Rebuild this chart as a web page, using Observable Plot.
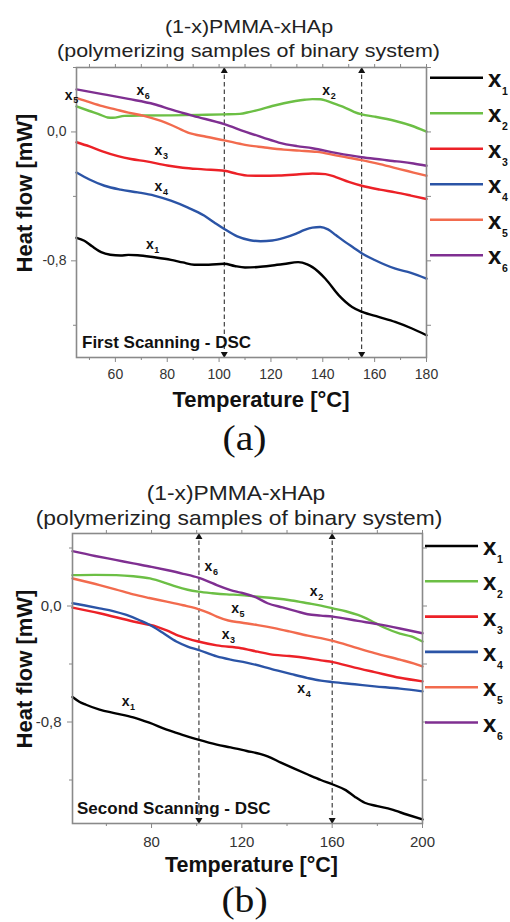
<!DOCTYPE html>
<html><head><meta charset="utf-8">
<script src="https://cdn.jsdelivr.net/npm/d3@7"></script>
<script src="https://cdn.jsdelivr.net/npm/@observablehq/plot@0.6"></script>
<style>
body{margin:0;background:#fff;}
#page{position:relative;width:510px;height:922px;overflow:hidden;background:#fff;font-family:"Liberation Sans",Arial,sans-serif;}
#pa,#pb,#ov{position:absolute;left:0;}
#pa{top:0}#pb{top:460px}#ov{top:0}
</style></head><body><div id="page"><div id="pa"></div><div id="pb"></div><svg id="ov" width="510" height="922"></svg></div>
<script>
// ---------- data ----------
const SERIES = ["1","2","3","4","5","6"];
const COLORS = ["#000000","#6cbf45","#ec2127","#2b54a6","#f26b4e","#7f2f91"];

// Panel (a) First scanning: [temperature °C, heat flow mW]
const A_X1 = [[45,-0.657],[48,-0.675],[51,-0.71],[54.5,-0.746],[58,-0.762],[62,-0.767],[65,-0.763],[68.6,-0.765],[75,-0.778],[81.4,-0.794],[86,-0.81],[90.4,-0.824],[96,-0.824],[102,-0.818],[106,-0.832],[110,-0.841],[115,-0.838],[120.5,-0.829],[125,-0.82],[130.5,-0.808],[134,-0.822],[136,-0.839],[141,-0.911],[146.2,-1.014],[151.3,-1.086],[155.2,-1.117],[161.5,-1.148],[167.9,-1.179],[174.4,-1.22],[180,-1.262]];
const A_X2 = [[45,0.158],[50,0.13],[54.5,0.105],[57,0.09],[59,0.088],[63.5,0.1],[70,0.102],[81.4,0.103],[92,0.106],[102,0.109],[108,0.112],[112,0.125],[116,0.14],[120.5,0.161],[125,0.178],[129.5,0.192],[133,0.2],[136,0.204],[139,0.203],[141,0.196],[145,0.172],[148.7,0.15],[152,0.125],[155,0.109],[160,0.095],[168,0.068],[174,0.04],[180,0.002]];
const A_X3 = [[45,-0.064],[50,-0.09],[55,-0.12],[61,-0.15],[66,-0.168],[72,-0.183],[80,-0.208],[86,-0.222],[94,-0.232],[102,-0.241],[107,-0.26],[111,-0.271],[116,-0.272],[123,-0.27],[130,-0.264],[136,-0.258],[141,-0.262],[145,-0.28],[150,-0.31],[155,-0.334],[162,-0.358],[168,-0.375],[174,-0.395],[180,-0.416]];
const A_X4 = [[45,-0.252],[50,-0.295],[55.8,-0.334],[62,-0.358],[68.6,-0.375],[75,-0.395],[81.4,-0.427],[88,-0.47],[94.2,-0.519],[98,-0.56],[102,-0.602],[107,-0.648],[112,-0.672],[116,-0.678],[120.5,-0.674],[125,-0.658],[129.5,-0.633],[133,-0.608],[136,-0.594],[139,-0.59],[142,-0.605],[145,-0.64],[148.7,-0.684],[152,-0.72],[155,-0.753],[160,-0.795],[168,-0.849],[174,-0.875],[180,-0.911]];
const A_X5 = [[45,0.212],[50,0.185],[55,0.16],[60,0.14],[65,0.12],[71,0.1],[77.6,0.068],[82,0.04],[88,-0.004],[95,-0.03],[102,-0.052],[110,-0.08],[117,-0.095],[125,-0.11],[131,-0.116],[137.8,-0.124],[145,-0.145],[150,-0.16],[155,-0.175],[162,-0.2],[170,-0.232],[175,-0.252],[180,-0.272]];
const A_X6 = [[45,0.264],[55,0.235],[65,0.205],[75,0.172],[81.4,0.14],[90,0.1],[102,0.048],[110,0.002],[117,-0.035],[123,-0.066],[130,-0.088],[136,-0.101],[145,-0.13],[155,-0.157],[163,-0.172],[167,-0.18],[170.5,-0.186],[175,-0.196],[180,-0.21]];

// Panel (b) Second scanning
const B_X1 = [[45,-0.628],[48,-0.66],[51,-0.681],[57,-0.715],[64,-0.74],[71.9,-0.768],[79,-0.805],[86.7,-0.853],[94,-0.89],[100.7,-0.922],[108.9,-0.956],[115,-0.975],[122.2,-1.0],[128,-1.02],[131.4,-1.037],[137.3,-1.08],[143,-1.12],[149.2,-1.162],[155,-1.2],[160.3,-1.231],[166,-1.27],[170,-1.315],[174.4,-1.357],[180,-1.38],[186.2,-1.403],[193,-1.438],[200,-1.472]];
const B_X2 = [[45,0.213],[55,0.215],[64.4,0.213],[72,0.205],[79.3,0.19],[86,0.16],[91,0.133],[96,0.112],[100.7,0.099],[107,0.088],[113.3,0.08],[119.6,0.076],[125.5,0.066],[134.4,0.053],[142,0.038],[149.2,0.019],[155,0.003],[160.3,-0.016],[166,-0.036],[171.4,-0.062],[177,-0.1],[183.2,-0.15],[190,-0.19],[195,-0.21],[200,-0.245]];
const B_X3 = [[45,-0.011],[57,-0.05],[71.9,-0.107],[82.2,-0.142],[87,-0.17],[91,-0.199],[96,-0.225],[100.7,-0.245],[108.9,-0.272],[119.6,-0.291],[127,-0.315],[134.4,-0.337],[141,-0.345],[149.2,-0.36],[155,-0.375],[160.3,-0.387],[170,-0.425],[178.8,-0.456],[190,-0.495],[200,-0.52]];
const B_X4 = [[45,0.019],[50,0.005],[57,-0.016],[63,-0.035],[68.9,-0.062],[75,-0.1],[79.3,-0.131],[85,-0.185],[91,-0.245],[96,-0.28],[100.7,-0.303],[108.9,-0.348],[115,-0.37],[122,-0.39],[134.4,-0.44],[142,-0.47],[149.2,-0.497],[155,-0.515],[160.3,-0.525],[170,-0.54],[178.8,-0.554],[190,-0.57],[200,-0.589]];
const B_X5 = [[45,0.19],[57,0.144],[64,0.115],[71.9,0.08],[79,0.055],[86.7,0.03],[94,0.005],[100.7,-0.021],[105,-0.045],[108.9,-0.073],[114,-0.1],[119.6,-0.114],[127,-0.132],[134.4,-0.153],[141,-0.175],[149.2,-0.204],[155,-0.222],[160.3,-0.241],[170,-0.285],[178.8,-0.325],[190,-0.37],[196,-0.395],[200,-0.417]];
const B_X6 = [[45,0.378],[55,0.345],[64,0.318],[71.9,0.294],[80,0.27],[86.7,0.248],[94,0.222],[100.7,0.195],[105,0.17],[108.9,0.144],[115,0.11],[119.6,0.092],[125.5,0.065],[131.4,0.019],[138,-0.01],[144,-0.035],[149.2,-0.057],[155,-0.066],[160.3,-0.073],[171.4,-0.103],[180,-0.125],[190,-0.155],[200,-0.188]];

// curve labels: [subscript, temperature, heat flow]
const A_LABELS = [["6",69.6,0.257],["5",42,0.229],["3",76.6,-0.116],["4",76.6,-0.339],["1",73.3,-0.697],["2",141.3,0.255]];
const B_LABELS = [["6",105.2,0.272],["5",117,-0.016],["3",112.8,-0.197],["1",68.5,-0.658],["2",151.8,0.101],["4",146.3,-0.57]];

// dashed marker temperatures
const A_RULES = [102, 155];
const B_RULES = [101, 160];

// ticks
const A_X_MAJOR = [60,80,100,120,140,160,180];
const A_X_MINOR = [50,70,90,110,130,150,170];
const B_X_MAJOR = [80,120,160,200];
const B_X_MINOR = [60,100,140,180];
const Y_MAJOR = [-0.8, 0];
const Y_MINOR = [-1.2, -0.4, 0.4];

const TITLE1 = "(1-x)PMMA-xHAp";
const TITLE2 = "(polymerizing samples of binary system)";
const Y_LABEL = "Heat flow [mW]";
const X_LABEL = "Temperature [°C]";

// ---------- drawing ----------
const SANS = "'Liberation Sans', Arial, sans-serif";
const yFmt = d => (d < 0 ? "-" : "") + Math.abs(d).toFixed(1).replace(".", ",");
const blank = () => "";

function panel(o) {
  const marks = [
    Plot.ruleX(o.rules, {x: d => d, stroke: "#1a1a1a", strokeWidth: 1, strokeDasharray: "4.5,3"}),
    Plot.dot(o.rules, {x: d => d, y: o.yDomain[1], symbol: "triangle", r: 2.6, fill: "#111", dy: 3.5}),
    Plot.dot(o.rules, {x: d => d, y: o.yDomain[0], symbol: "triangle", rotate: 180, r: 2.6, fill: "#111", dy: -3.5}),
  ];
  o.series.forEach((s, i) => marks.push(Plot.line(s, {x: d => d[0], y: d => d[1], stroke: COLORS[i], strokeWidth: 2.4, curve: "monotone-x"})));
  marks.push(
    Plot.frame({stroke: "#8a8a8a", strokeWidth: 1.6}),
    Plot.axisX(o.xMajor, {anchor: "bottom", tickSize: 5, tickPadding: o.padX, stroke: "#888", label: null, tickFormat: d => String(d)}),
    Plot.axisX(o.xMinor, {anchor: "bottom", tickSize: 3, stroke: "#888", label: null, tickFormat: blank}),
    Plot.axisX(o.xMajor.concat(o.xMinor), {anchor: "top", tickSize: 4, stroke: "#888", label: null, tickFormat: blank}),
    Plot.axisY(Y_MAJOR, {anchor: "left", tickSize: 5, tickPadding: o.padY, stroke: "#888", label: null, tickFormat: yFmt}),
    Plot.axisY(Y_MINOR, {anchor: "left", tickSize: 3, stroke: "#888", label: null, tickFormat: blank}),
    Plot.axisY(Y_MAJOR.concat(Y_MINOR), {anchor: "right", tickSize: 4, stroke: "#888", label: null, tickFormat: blank}),
    Plot.text(o.labels, {x: d => d[1], y: d => d[2], text: () => "x", fontSize: 14, fontWeight: "bold", fill: "#111"}),
    Plot.text(o.labels, {x: d => d[1], y: d => d[2], text: d => d[0], dx: 4.5, dy: 5.5, fontSize: 9, fontWeight: "bold", fill: "#111", textAnchor: "start"})
  );
  return Plot.plot({
    width: 510, height: o.height,
    marginLeft: o.m[0], marginRight: o.m[1], marginTop: o.m[2], marginBottom: o.m[3],
    x: {domain: o.xDomain, axis: null},
    y: {domain: o.yDomain, axis: null},
    style: {fontFamily: SANS, fontSize: o.tickFont + "px", color: "#333", background: "transparent", overflow: "visible"},
    marks
  });
}

document.getElementById("pa").append(panel({
  series: [A_X1, A_X2, A_X3, A_X4, A_X5, A_X6], labels: A_LABELS, rules: A_RULES,
  xDomain: [45, 180], yDomain: [-1.4, 0.4], xMajor: A_X_MAJOR, xMinor: A_X_MINOR,
  height: 460, m: [76, 84, 67, 103], tickFont: 14, padX: 7, padY: 5
}));
document.getElementById("pb").append(panel({
  series: [B_X1, B_X2, B_X3, B_X4, B_X5, B_X6], labels: B_LABELS, rules: B_RULES,
  xDomain: [45, 200], yDomain: [-1.5, 0.5], xMajor: B_X_MAJOR, xMinor: B_X_MINOR,
  height: 462, m: [72, 88, 73, 99], tickFont: 15, padX: 8, padY: 6
}));

// overlay: titles, axis titles, panel letters, legends
const ov = d3.select("#ov");
function addText(str, x, y, {size, weight = "normal", family = SANS, anchor = "middle", sx = 1, rotate = 0, fill = "#111"}) {
  ov.append("text")
    .attr("transform", `translate(${x},${y}) rotate(${rotate}) scale(${sx},1)`)
    .attr("text-anchor", anchor).attr("font-size", size).attr("font-weight", weight)
    .attr("font-family", family).attr("fill", fill).text(str);
}
function legend(x0, x1, y0, step) {
  SERIES.forEach((s, i) => {
    const y = y0 + i * step;
    ov.append("line").attr("x1", x0).attr("x2", x1).attr("y1", y).attr("y2", y)
      .attr("stroke", COLORS[i]).attr("stroke-width", 2.6);
    addText("x", x1 + 5, y + 9, {size: 24, weight: "bold", anchor: "start"});
    addText(s, x1 + 19, y + 17, {size: 10.5, weight: "bold", anchor: "start"});
  });
}

// panel (a)
addText(TITLE1, 249, 33, {size: 19, sx: 1.13, fill: "#222"});
addText(TITLE2, 248.5, 57, {size: 19, sx: 1.13, fill: "#222"});
addText(Y_LABEL, 32, 193, {size: 22, weight: "bold", rotate: -90});
addText(X_LABEL, 261, 407, {size: 22, weight: "bold"});
addText("First Scanning - DSC", 82, 348, {size: 17, weight: "bold", anchor: "start"});
addText("(a)", 244.5, 450, {size: 36, sx: 1.1, family: "'Liberation Serif', 'Times New Roman', serif"});
legend(430, 483, 77.7, 35.5);

// panel (b)
addText(TITLE1, 236, 499.5, {size: 20, sx: 1.14, fill: "#222"});
addText(TITLE2, 239, 524.5, {size: 20, sx: 1.14, fill: "#222"});
addText(Y_LABEL, 32, 669, {size: 22, weight: "bold", rotate: -90});
addText(X_LABEL, 251.5, 872, {size: 21.5, weight: "bold"});
addText("Second Scanning - DSC", 77, 814, {size: 17, weight: "bold", anchor: "start"});
addText("(b)", 244.5, 912, {size: 36, sx: 1.1, family: "'Liberation Serif', 'Times New Roman', serif"});
legend(425, 478, 546, 35.3);
</script></body></html>
